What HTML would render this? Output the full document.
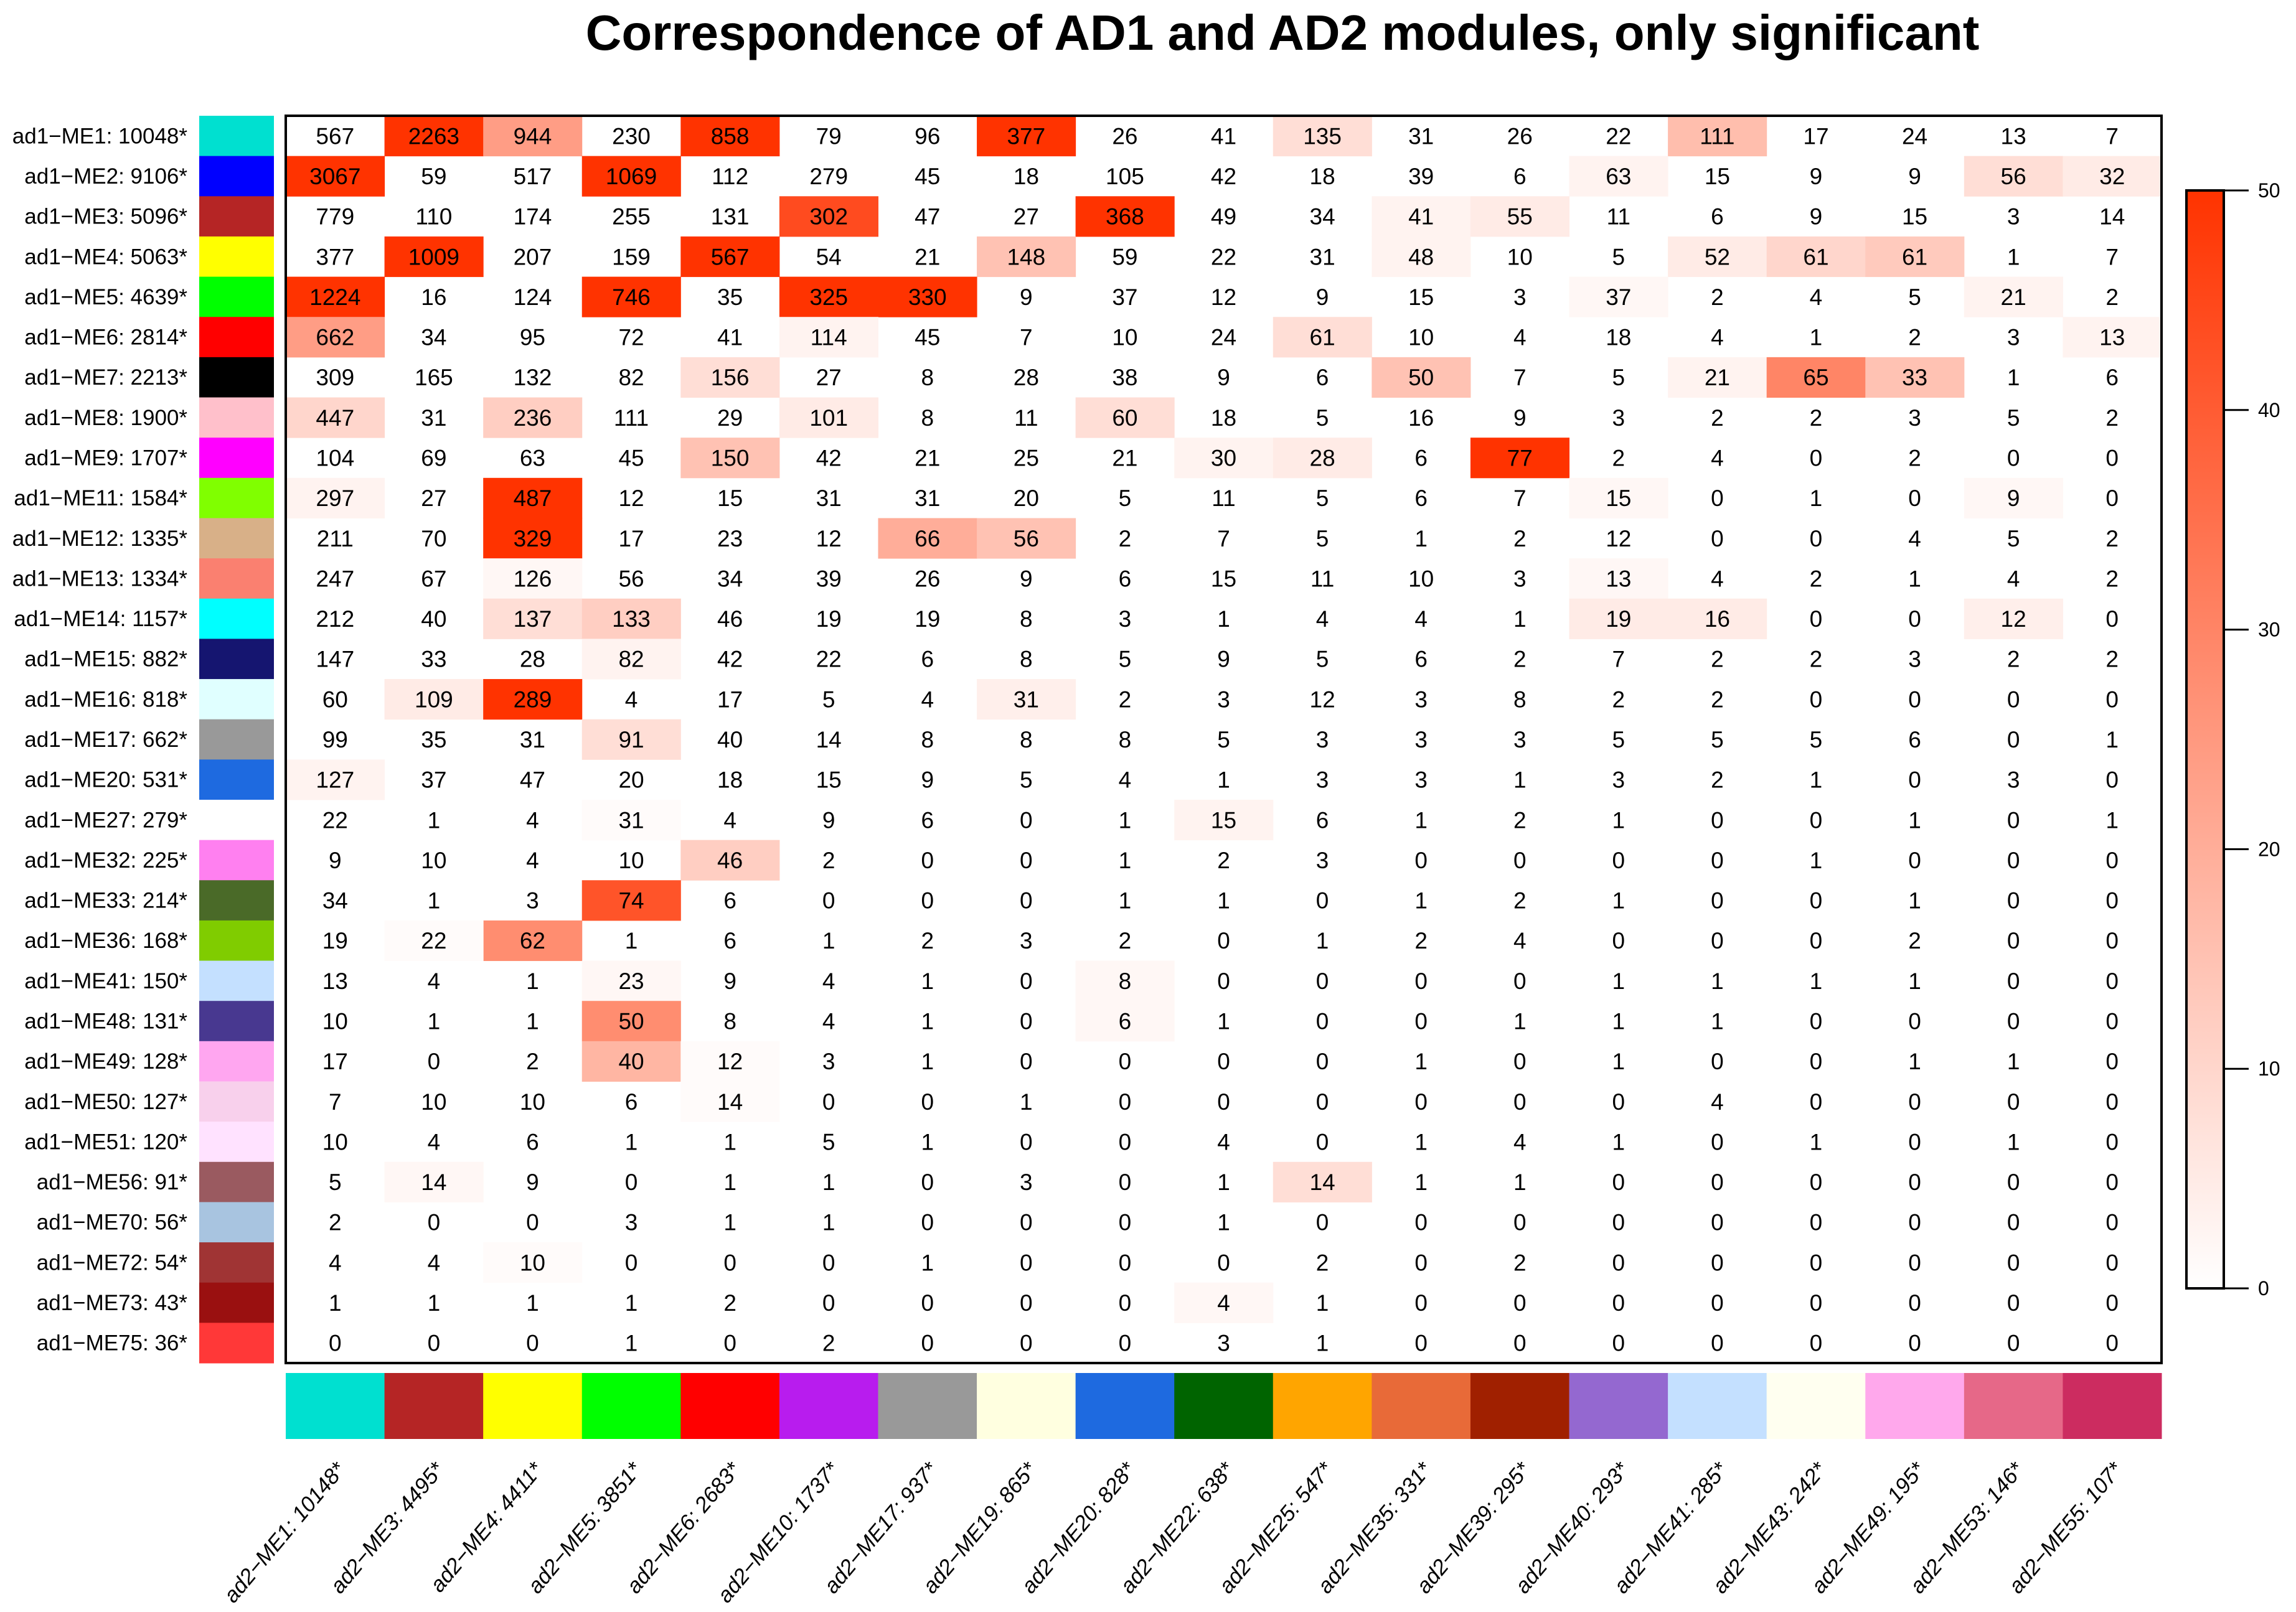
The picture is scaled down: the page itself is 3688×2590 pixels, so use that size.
<!DOCTYPE html>
<html><head><meta charset="utf-8">
<style>
html,body{margin:0;padding:0;background:#fff;}
svg{display:block;}
text{font-family:"Liberation Sans",Arial,sans-serif;}
</style></head>
<body>
<svg id="chart" xmlns="http://www.w3.org/2000/svg" width="3688" height="2590" viewBox="0 0 3688 2590">
<rect width="3688" height="2590" fill="#fff"/>
<text x="2060" y="80" text-anchor="middle" font-size="80" font-weight="bold" fill="#000">Correspondence of AD1 and AD2 modules, only significant</text>
<g id="g-cells"></g>
<g id="g-text"></g>
<g id="g-rows"></g>
<g id="g-cols"></g>
<g id="g-legend"></g>
<rect x="459" y="186" width="3013" height="2004" fill="none" stroke="#000" stroke-width="4"/>
</svg>
<script>
const rowLabels = ["ad1\u2212ME1: 10048*","ad1\u2212ME2: 9106*","ad1\u2212ME3: 5096*","ad1\u2212ME4: 5063*","ad1\u2212ME5: 4639*","ad1\u2212ME6: 2814*","ad1\u2212ME7: 2213*","ad1\u2212ME8: 1900*","ad1\u2212ME9: 1707*","ad1\u2212ME11: 1584*","ad1\u2212ME12: 1335*","ad1\u2212ME13: 1334*","ad1\u2212ME14: 1157*","ad1\u2212ME15: 882*","ad1\u2212ME16: 818*","ad1\u2212ME17: 662*","ad1\u2212ME20: 531*","ad1\u2212ME27: 279*","ad1\u2212ME32: 225*","ad1\u2212ME33: 214*","ad1\u2212ME36: 168*","ad1\u2212ME41: 150*","ad1\u2212ME48: 131*","ad1\u2212ME49: 128*","ad1\u2212ME50: 127*","ad1\u2212ME51: 120*","ad1\u2212ME56: 91*","ad1\u2212ME70: 56*","ad1\u2212ME72: 54*","ad1\u2212ME73: 43*","ad1\u2212ME75: 36*"];
const rowColors = ["#00E0D0","#0000FF","#B52525","#FFFF00","#00FF00","#FF0000","#000000","#FFC0CB","#FF00FF","#80FF00","#D8B088","#FA8070","#00FFFF","#151570","#E0FFFF","#999999","#1E6AE0","#FFFFFF","#FF80F0","#4A6A28","#80CC00","#C4E0FF","#483890","#FFA6F0","#F8D0EC","#FFE2FF","#9A5A60","#A8C4E0","#A03434","#9A1010","#FF3838"];
const colLabels = ["ad2\u2212ME1: 10148*","ad2\u2212ME3: 4495*","ad2\u2212ME4: 4411*","ad2\u2212ME5: 3851*","ad2\u2212ME6: 2683*","ad2\u2212ME10: 1737*","ad2\u2212ME17: 937*","ad2\u2212ME19: 865*","ad2\u2212ME20: 828*","ad2\u2212ME22: 638*","ad2\u2212ME25: 547*","ad2\u2212ME35: 331*","ad2\u2212ME39: 295*","ad2\u2212ME40: 293*","ad2\u2212ME41: 285*","ad2\u2212ME43: 242*","ad2\u2212ME49: 195*","ad2\u2212ME53: 146*","ad2\u2212ME55: 107*"];
const colColors = ["#00E0D0","#B52525","#FFFF00","#00FF00","#FF0000","#B81CEE","#999999","#FFFFE0","#1E6AE0","#006400","#FFA500","#E86A38","#A02000","#9468D0","#C4E0FF","#FFFFF0","#FFA8EC","#E66888","#CC2C60"];
const counts = [
[567,2263,944,230,858,79,96,377,26,41,135,31,26,22,111,17,24,13,7],
[3067,59,517,1069,112,279,45,18,105,42,18,39,6,63,15,9,9,56,32],
[779,110,174,255,131,302,47,27,368,49,34,41,55,11,6,9,15,3,14],
[377,1009,207,159,567,54,21,148,59,22,31,48,10,5,52,61,61,1,7],
[1224,16,124,746,35,325,330,9,37,12,9,15,3,37,2,4,5,21,2],
[662,34,95,72,41,114,45,7,10,24,61,10,4,18,4,1,2,3,13],
[309,165,132,82,156,27,8,28,38,9,6,50,7,5,21,65,33,1,6],
[447,31,236,111,29,101,8,11,60,18,5,16,9,3,2,2,3,5,2],
[104,69,63,45,150,42,21,25,21,30,28,6,77,2,4,0,2,0,0],
[297,27,487,12,15,31,31,20,5,11,5,6,7,15,0,1,0,9,0],
[211,70,329,17,23,12,66,56,2,7,5,1,2,12,0,0,4,5,2],
[247,67,126,56,34,39,26,9,6,15,11,10,3,13,4,2,1,4,2],
[212,40,137,133,46,19,19,8,3,1,4,4,1,19,16,0,0,12,0],
[147,33,28,82,42,22,6,8,5,9,5,6,2,7,2,2,3,2,2],
[60,109,289,4,17,5,4,31,2,3,12,3,8,2,2,0,0,0,0],
[99,35,31,91,40,14,8,8,8,5,3,3,3,5,5,5,6,0,1],
[127,37,47,20,18,15,9,5,4,1,3,3,1,3,2,1,0,3,0],
[22,1,4,31,4,9,6,0,1,15,6,1,2,1,0,0,1,0,1],
[9,10,4,10,46,2,0,0,1,2,3,0,0,0,0,1,0,0,0],
[34,1,3,74,6,0,0,0,1,1,0,1,2,1,0,0,1,0,0],
[19,22,62,1,6,1,2,3,2,0,1,2,4,0,0,0,2,0,0],
[13,4,1,23,9,4,1,0,8,0,0,0,0,1,1,1,1,0,0],
[10,1,1,50,8,4,1,0,6,1,0,0,1,1,1,0,0,0,0],
[17,0,2,40,12,3,1,0,0,0,0,1,0,1,0,0,1,1,0],
[7,10,10,6,14,0,0,1,0,0,0,0,0,0,4,0,0,0,0],
[10,4,6,1,1,5,1,0,0,4,0,1,4,1,0,1,0,1,0],
[5,14,9,0,1,1,0,3,0,1,14,1,1,0,0,0,0,0,0],
[2,0,0,3,1,1,0,0,0,1,0,0,0,0,0,0,0,0,0],
[4,4,10,0,0,0,1,0,0,0,2,0,2,0,0,0,0,0,0],
[1,1,1,1,2,0,0,0,0,4,1,0,0,0,0,0,0,0,0],
[0,0,0,1,0,2,0,0,0,3,1,0,0,0,0,0,0,0,0]];
// significance level per cell: [row, col, level 0..50]
const shadeCells = [
[0,1,50],[0,2,24],[0,4,50],[0,7,50],[0,10,8],[0,14,16],
[1,0,50],[1,3,50],[1,13,3],[1,17,8],[1,18,5],
[2,5,44],[2,8,50],[2,11,3],[2,12,5],
[3,1,50],[3,4,50],[3,7,15],[3,11,3],[3,14,5],[3,15,10],[3,16,13],
[4,0,50],[4,3,50],[4,5,50],[4,6,50],[4,13,2],[4,17,3],
[5,0,24],[5,5,3],[5,10,8],[5,18,3],
[6,4,8],[6,11,15],[6,14,3],[6,15,30],[6,16,15],
[7,0,10],[7,2,12],[7,5,5],[7,8,8],
[8,4,15],[8,9,3],[8,10,5],[8,12,50],
[9,0,3],[9,2,50],[9,13,2],[9,17,2],
[10,2,50],[10,6,20],[10,7,15],
[11,2,2],[11,13,2],
[12,2,8],[12,3,12],[12,13,5],[12,14,5],[12,17,4],
[13,3,3],
[14,1,5],[14,2,50],[14,7,4],
[15,3,8],
[16,0,3],
[17,9,3],[17,3,1],
[18,4,12],
[19,3,42],
[20,2,28],[20,1,1],
[21,3,2],[21,8,2],
[22,3,28],[22,8,2],
[23,3,18],[23,4,1],
[24,4,1],
[26,1,2],[26,10,8],
[28,2,1],
[29,9,2]];
const legendTicks = [0,10,20,30,40,50];
const legendMax = 50;

const NS = "http://www.w3.org/2000/svg";
const X0 = 459, X1 = 3472, Y0 = 186, Y1 = 2190;
const cw = (X1 - X0) / colLabels.length, rh = (Y1 - Y0) / rowLabels.length;
const xPos = c => X0 + c * cw;
const yPos = r => Y0 + r * rh;
function shade(v){ const t = Math.min(v, legendMax) / legendMax;
  const g = Math.round(255 - t*(255-51)), b = Math.round(255 - t*255);
  return `rgb(255,${g},${b})`; }
function mk(tag, attrs, parent){ const e = document.createElementNS(NS, tag);
  for (const k in attrs) e.setAttribute(k, attrs[k]); parent.appendChild(e); return e; }

const gCells = document.getElementById('g-cells');
shadeCells.forEach(([r,c,v]) => {
  const el = mk('rect', {x:xPos(c), y:yPos(r), width:cw+0.5, height:rh+0.5, fill:shade(v)}, gCells);
  
  
});
const gText = document.getElementById('g-text');
counts.forEach((row, r) => row.forEach((v, c) => {
  const t = mk('text', {x:xPos(c)+cw/2, y:yPos(r)+rh/2+13, 'text-anchor':'middle', 'font-size':37, fill:'#000'}, gText);
  t.textContent = v;
  
  
}));
const gRows = document.getElementById('g-rows');
rowLabels.forEach((lab, r) => {
  const t = mk('text', {x:301, y:yPos(r)+rh/2+12, 'text-anchor':'end', 'font-size':35, fill:'#000'}, gRows);
  t.textContent = lab;
  
  
  const s = mk('rect', {x:320, y:yPos(r), width:120, height:rh+0.5, fill:rowColors[r]}, gRows);
  
  
});
const gCols = document.getElementById('g-cols');
colLabels.forEach((lab, c) => {
  const s = mk('rect', {x:xPos(c), y:2206, width:cw+0.5, height:106, fill:colColors[c]}, gCols);
  
  
  const cx = xPos(c) + cw/2 + 18;
  const t = mk('text', {x:cx, y:2362, 'text-anchor':'end', 'font-size':35, 'font-style':'italic', fill:'#000', transform:`rotate(-50 ${cx} 2362)`}, gCols);
  t.textContent = lab;
  
  
});
const gL = document.getElementById('g-legend');
const LY0 = 306, LY1 = 2070, LX = 3512, LW = 60;
const defs = mk('defs', {}, gL);
const grad = mk('linearGradient', {id:'lg', x1:0, y1:1, x2:0, y2:0}, defs);
mk('stop', {offset:0, 'stop-color':shade(0)}, grad);
mk('stop', {offset:1, 'stop-color':shade(legendMax)}, grad);
const bar = mk('rect', {x:LX, y:LY0, width:LW, height:LY1-LY0, fill:'url(#lg)', stroke:'#000', 'stroke-width':4}, gL);


const ly = v => LY1 - (v/legendMax)*(LY1-LY0);
legendTicks.forEach(v => {
  const tk = mk('line', {x1:LX+LW, x2:LX+LW+40, y1:ly(v), y2:ly(v), stroke:'#000', 'stroke-width':3}, gL);
  
  
  const t = mk('text', {x:LX+LW+55, y:ly(v)+11, 'font-size':32, fill:'#000'}, gL);
  t.textContent = v;
  
  
});
</script>
</body></html>
